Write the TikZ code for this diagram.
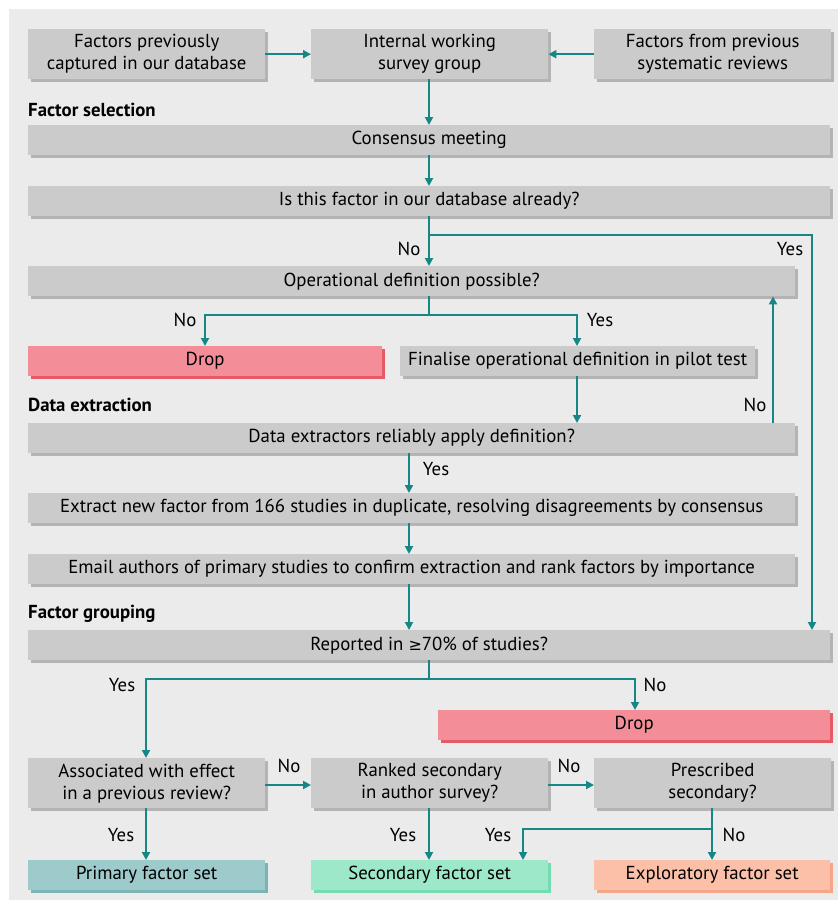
\documentclass[tikz,border=0pt]{standalone}
\usepackage{fontspec}
\setmainfont{PT Sans}
\newfontfamily\symfont{DejaVu Sans}
\usetikzlibrary{arrows.meta, shadows}

\definecolor{bggray}{HTML}{EBEBEB}
\definecolor{boxgray}{HTML}{CBCBCB}
\definecolor{shadegray}{HTML}{B4B4B4}
\definecolor{teal}{HTML}{168785}
\definecolor{droppink}{HTML}{F38E98}
\definecolor{dropshade}{HTML}{E65A68}
\definecolor{primfill}{HTML}{9DCACB}
\definecolor{primshade}{HTML}{7CB4B6}
\definecolor{secfill}{HTML}{9EE8CA}
\definecolor{secshade}{HTML}{74DCB0}
\definecolor{expfill}{HTML}{FCC0A8}
\definecolor{expshade}{HTML}{F6A688}

\begin{document}
\begin{tikzpicture}[
  x=1pt, y=-1pt,
  >={Triangle[length=8pt, width=8pt]},
  every node/.style={font=\fontsize{18.8}{22}\selectfont},
  flow/.style={->, draw=teal, line width=1.9pt},
  lbl/.style={inner sep=0pt},
  head/.style={anchor=west, inner sep=0pt, font=\fontsize{18.8}{22}\selectfont\bfseries},
  gbox/.style={anchor=north west, inner sep=0pt, align=center, fill=#1,
    general shadow={fill=shadegray, shadow xshift=3pt, shadow yshift=-3pt}},
  gbox/.default=boxgray,
  tall/.style={minimum width=237pt, minimum height=50pt},
  bar/.style={minimum height=30pt},
]
\useasboundingbox (0,0) rectangle (838,900);
\fill[bggray] (9,9) rectangle (838,900);

% sources
\node[gbox, tall] (known) at (28,29) {Factors previously\\captured in our database};
\node[gbox, tall] (group) at (311,29) {Internal working\\survey group};
\node[gbox, tall] (reviews) at (594,29) {Factors from previous\\systematic reviews};

% --- factor selection ---
\node[head] (hsel) at (28,110) {Factor selection};
\node[gbox, bar, minimum width=802pt] (meet) at (28,125) {Consensus meeting};
\node[gbox, bar, minimum width=802pt] (indb) at (28,186) {Is this factor in our database already?};
\node[gbox, bar, minimum width=767pt] (opdef) at (28,266) {Operational definition possible?};
\node[gbox, bar, minimum width=354pt, fill=droppink,
  general shadow={fill=dropshade, shadow xshift=3pt, shadow yshift=-3pt}]
  (drop1) at (28,346) {Drop};
\node[gbox, bar, minimum width=355pt] (pilot) at (400,346) {Finalise operational definition in pilot test};

% --- data extraction ---
\node[head] (hext) at (28,405) {Data extraction};
\node[gbox, bar, minimum width=767pt] (reli) at (28,423) {Data extractors reliably apply definition?};
\node[gbox, bar, minimum width=767pt] (extr) at (28,493) {Extract new factor from 166 studies in duplicate, resolving disagreements by consensus};
\node[gbox, bar, minimum width=767pt] (mail) at (28,554) {Email authors of primary studies to confirm extraction and rank factors by importance};

% --- factor grouping ---
\node[head] (hgrp) at (28,614) {Factor grouping};
\node[gbox, bar, minimum width=802pt] (rep) at (28,630) {Reported in {\symfont\fontsize{16}{22}\selectfont ≥}70\% of studies?};
\node[gbox, bar, minimum width=392pt, fill=droppink,
  general shadow={fill=dropshade, shadow xshift=3pt, shadow yshift=-3pt}]
  (drop2) at (438,710) {Drop};
\node[gbox, tall] (assoc) at (28,758) {Associated with effect\\in a previous review?};
\node[gbox, tall] (rank) at (311,758) {Ranked secondary\\in author survey?};
\node[gbox, tall] (presc) at (594,758) {Prescribed\\secondary?};
\node[gbox, bar, minimum width=237pt, fill=primfill,
  general shadow={fill=primshade, shadow xshift=3pt, shadow yshift=-3pt}]
  (prim) at (28,860) {Primary factor set};
\node[gbox, bar, minimum width=237pt, fill=secfill,
  general shadow={fill=secshade, shadow xshift=3pt, shadow yshift=-3pt}]
  (sec) at (311,860) {Secondary factor set};
\node[gbox, bar, minimum width=236pt, fill=expfill,
  general shadow={fill=expshade, shadow xshift=3pt, shadow yshift=-3pt}]
  (expl) at (594,860) {Exploratory factor set};

% branch points
\coordinate (jdb) at (429,235);
\coordinate (jop) at (429,315);
\coordinate (jrep) at (429,679);
\coordinate (jpre) at (712,829);

% connectors
\draw[flow] (known) -- (group);
\draw[flow] (reviews) -- (group);
\draw[flow] (group.south -| jdb) -- (meet.north -| jdb);
\draw[flow] (meet.south -| jdb) -- (indb.north -| jdb);
\draw[flow] (indb.south -| jdb) -- (opdef.north -| jdb);
\draw[flow] (jdb) -- (812,235) -- (rep.north -| 812,0);
\draw[teal, line width=1.9pt] (opdef.south -| jop) -- (jop);
\draw[flow] (jop) -| (drop1.north -| 205,0);
\draw[flow] (jop) -| (pilot.north -| 577,0);
\draw[flow] (pilot.south -| 577,0) -- (reli.north -| 577,0);
\draw[flow] (reli.north -| 773,0) -- (opdef.south -| 773,0);
\draw[flow] (reli.south -| 409,0) -- (extr.north -| 409,0);
\draw[flow] (extr.south -| 409,0) -- (mail.north -| 409,0);
\draw[flow] (mail.south -| 409,0) -- (rep.north -| 409,0);
\draw[teal, line width=1.9pt] (rep.south -| jrep) -- (jrep);
\draw[flow] (jrep) -| (assoc.north -| 146,0);
\draw[flow] (jrep) -| (drop2.north -| 635,0);
\draw[flow] (assoc.east |- 0,785) -- (rank.west |- 0,785);
\draw[flow] (rank.east |- 0,785) -- (presc.west |- 0,785);
\draw[flow] (assoc.south -| 146,0) -- (prim.north -| 146,0);
\draw[flow] (rank.south -| 429,0) -- (sec.north -| 429,0);
\draw[flow] (presc.south -| jpre) -- (expl.north -| jpre);
\draw[flow] (jpre) -| (sec.north -| 523,0);

% branch labels
\node[lbl] (l1) at (409,249) {No};
\node[lbl] (l2) at (790,249) {Yes};
\node[lbl] (l3) at (185,320) {No};
\node[lbl] (l4) at (600,320) {Yes};
\node[lbl] (l5) at (755,405) {No};
\node[lbl] (l6) at (436,469) {Yes};
\node[lbl] (l7) at (122,685) {Yes};
\node[lbl] (l8) at (655,685) {No};
\node[lbl] (l9) at (289,766) {No};
\node[lbl] (l10) at (569,766) {No};
\node[lbl] (l11) at (121,835) {Yes};
\node[lbl] (l12) at (403,835) {Yes};
\node[lbl] (l13) at (498,835) {Yes};
\node[lbl] (l14) at (734,835) {No};
\end{tikzpicture}
\end{document}
